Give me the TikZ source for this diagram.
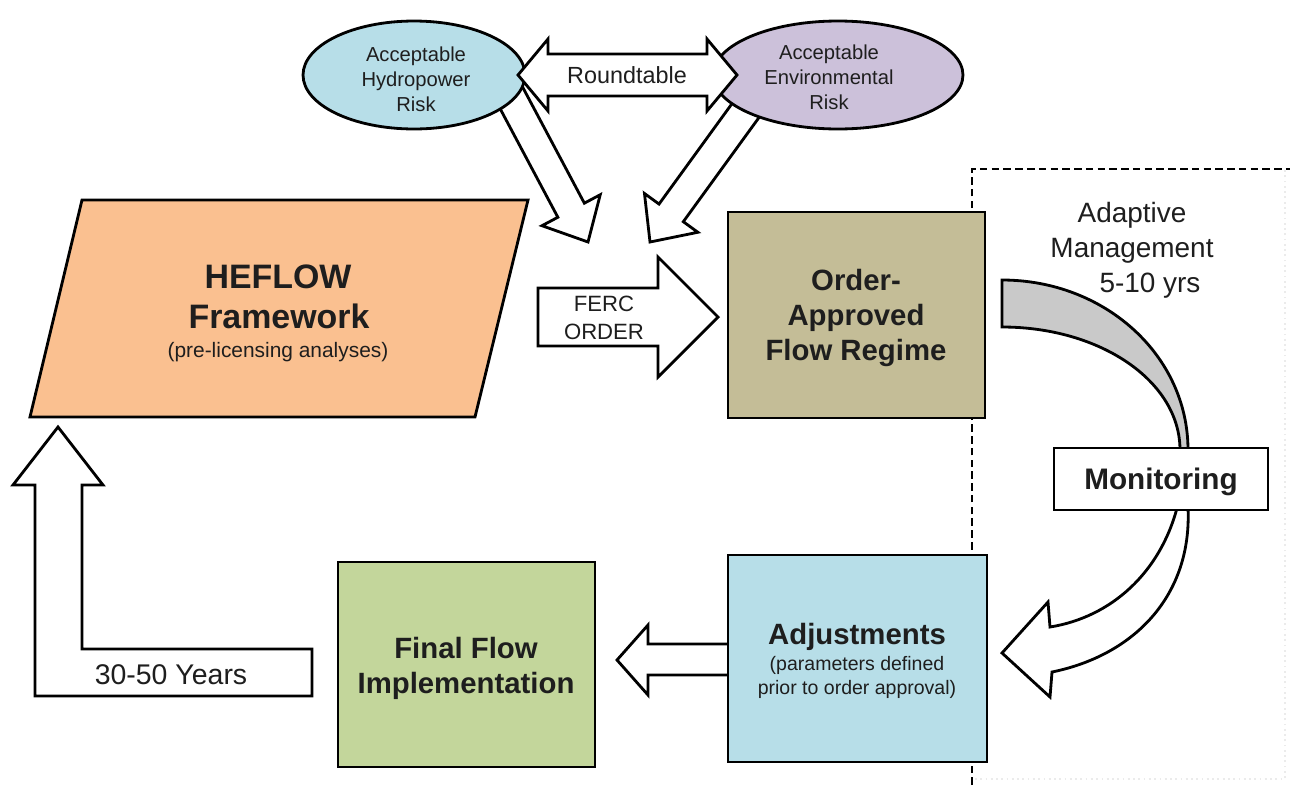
\documentclass[tikz,border=0pt]{standalone}
\usepackage{fontspec}
\setmainfont{Liberation Sans}
\usetikzlibrary{shapes.geometric}
\definecolor{orangefill}{HTML}{FAC090}
\definecolor{tanfill}{HTML}{C4BD97}
\definecolor{bluefill}{HTML}{B7DEE8}
\definecolor{greenfill}{HTML}{C3D69B}
\definecolor{purplefill}{HTML}{CCC1DA}
\definecolor{grayfill}{HTML}{C9C9C9}
\definecolor{txt}{HTML}{1E1E1E}
\newcommand{\fsz}[2]{\fontsize{#1}{#2}\selectfont}
\begin{document}
\begin{tikzpicture}[x=0.02cm,y=-0.02cm,
  every node/.style={inner sep=0pt, outer sep=0pt, text=txt},
  ln/.style={line width=1.6pt, draw=black},
  barrow/.style={ln, fill=white},
  boxst/.style={ln, rectangle},
  ell/.style={ln, ellipse, align=center},
  lbl/.style={anchor=base}]
\useasboundingbox (0,0) rectangle (1290,785);
\fill[white] (0,0) rectangle (1290,785);

% faint outer frame and dashed adaptive-management region
\draw[black!8, dotted, line width=1pt] (975,779) -- (1285,779) -- (1285,170);
\draw[line width=1.1pt, dash pattern=on 4.3pt off 2.4pt] (972,785) -- (972,169) -- (1290,169);

% diagonal block arrows (under the ellipses)
\begin{scope}[shift={(588,242)}, rotate=-62]
  \draw[barrow] (0,0) -- (-36,-33) -- (-36,-15) -- (-190,-15) -- (-190,15) -- (-36,15) -- (-36,33) -- cycle;
\end{scope}
\begin{scope}[shift={(650,242)}, rotate=-126]
  \draw[barrow] (0,0) -- (-36,-33) -- (-36,-15) -- (-190,-15) -- (-190,15) -- (-36,15) -- (-36,33) -- cycle;
\end{scope}

% ellipses
\node[ell, fill=bluefill, minimum width=4.44cm, minimum height=2.16cm] (hydro) at (414,75) {};
\node[ell, fill=purplefill, minimum width=5.0cm, minimum height=2.16cm] (env) at (838,75) {};
\node[lbl] (h1) at (416,61) {\fsz{11.5}{14}Acceptable};
\node[lbl] (h2) at (416,86) {\fsz{11.5}{14}Hydropower};
\node[lbl] (h3) at (416,111) {\fsz{11.5}{14}Risk};
\node[lbl] (e1) at (829,59) {\fsz{11.5}{14}Acceptable};
\node[lbl] (e2) at (829,84) {\fsz{11.5}{14}Environmental};
\node[lbl] (e3) at (829,109) {\fsz{11.5}{14}Risk};

% roundtable double arrow
\draw[barrow] (518,75) -- (548,39) -- (548,54) -- (707,54) -- (707,39) -- (737,75)
  -- (707,111) -- (707,96) -- (548,96) -- (548,111) -- cycle;
\node (rt) at (627,75) {\fsz{13.3}{16}Roundtable};

% HEFLOW parallelogram
\draw[ln, fill=orangefill] (82,200) -- (528,200) -- (475,417) -- (30,417) -- cycle;
\node[lbl] (hf1) at (278,288) {\fsz{19.3}{22}\bfseries HEFLOW};
\node[lbl] (hf2) at (279,328) {\fsz{19.3}{22}\bfseries Framework};
\node[lbl] (hf3) at (278,357) {\fsz{11.9}{14}(pre-licensing analyses)};

% FERC ORDER arrow
\draw[barrow] (538,288) -- (658,288) -- (658,257) -- (718,317) -- (658,377) -- (658,346) -- (538,346) -- cycle;
\node[lbl] (f1) at (604,311) {\fsz{12.6}{15}FERC};
\node[lbl] (f2) at (604,339) {\fsz{12.6}{15}ORDER};

% 30-50 years arrow
\draw[barrow] (58,427) -- (103,485) -- (82,485) -- (82,649) -- (312,649) -- (312,696)
  -- (35,696) -- (35,485) -- (13,485) -- cycle;
\node[lbl] (yrs) at (171,684) {\fsz{16.2}{19}30-50 Years};

% Adjustments -> Final arrow
\draw[barrow] (745,644) -- (648,644) -- (648,625) -- (617,660) -- (648,695) -- (648,675) -- (745,675) -- cycle;

% gray arc band
\draw[ln, fill=grayfill] (1002,280) .. controls (1104.7,280) and (1188,355.3) .. (1188,450)
  -- (1180,450) .. controls (1180,381.2) and (1100.3,327) .. (1002,327) -- cycle;

% curved white arrow Monitoring -> Adjustments
\draw[barrow] (1177,508) .. controls (1160,572) and (1112,617) .. (1050,627) -- (1048,602) -- (1002,653)
  -- (1050,697) -- (1052,672) .. controls (1135,655) and (1192,595) .. (1188,508) -- cycle;

% boxes
\node[boxst, fill=tanfill, minimum width=5.14cm, minimum height=4.12cm] (order) at (856.5,315) {};
\node[lbl] (o1) at (856,290) {\fsz{16.7}{19}\bfseries Order-};
\node[lbl] (o2) at (856,325) {\fsz{16.7}{19}\bfseries Approved};
\node[lbl] (o3) at (856,360) {\fsz{16.7}{19}\bfseries Flow Regime};

\node[boxst, fill=bluefill, minimum width=5.18cm, minimum height=4.14cm] (adj) at (857.5,658.5) {};
\node[lbl] (a1) at (857,644) {\fsz{16.7}{19}\bfseries Adjustments};
\node[lbl] (a2) at (857,670) {\fsz{11.1}{13}(parameters defined};
\node[lbl] (a3) at (857,694) {\fsz{11.1}{13}prior to order approval)};

\node[boxst, fill=greenfill, minimum width=5.14cm, minimum height=4.10cm] (final) at (466.5,664.5) {};
\node[lbl] (g1) at (466,658) {\fsz{16.7}{19}\bfseries Final Flow};
\node[lbl] (g2) at (466,693) {\fsz{16.7}{19}\bfseries Implementation};

\node[boxst, fill=white, minimum width=4.28cm, minimum height=1.24cm] (mon) at (1161,479) {};
\node[lbl] (m1) at (1161,489) {\fsz{16.9}{19}\bfseries Monitoring};

% adaptive management label
\node[lbl] (am1) at (1132,222) {\fsz{15.9}{19}Adaptive};
\node[lbl] (am2) at (1132,257) {\fsz{15.9}{19}Management};
\node[lbl] (am3) at (1150,292) {\fsz{15.9}{19}5-10 yrs};
\end{tikzpicture}
\end{document}
